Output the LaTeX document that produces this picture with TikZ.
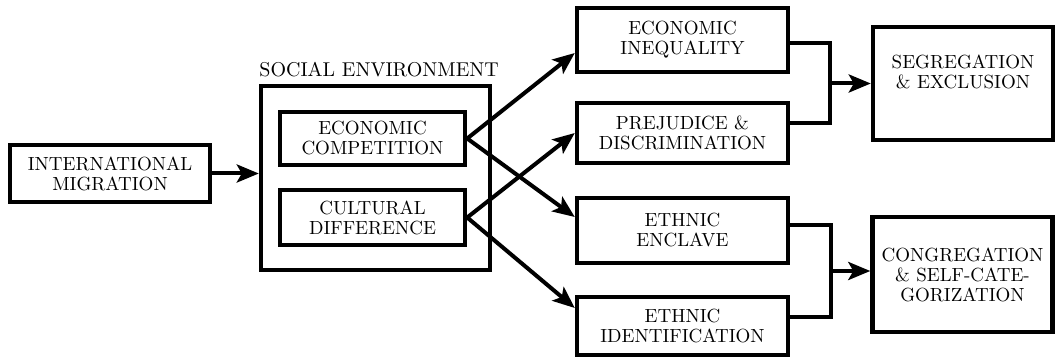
\documentclass[tikz,border=0pt]{standalone}
\usetikzlibrary{arrows.meta, positioning, calc}
\tikzset{
    box/.style={draw=black, line width=2.2pt, fill=white, align=center, inner sep=1pt, font=\fontsize{9.5}{10}\selectfont},
    midbox/.style={box, minimum width=105.5pt},
    endbox/.style={box, minimum width=90pt},
    title/.style={inner sep=0pt, font=\fontsize{10}{10}\selectfont},
    arrow/.style={-{Stealth[length=11pt, width=9pt, inset=2.5pt]}, line width=2pt, black},
    link/.style={line width=2pt, black, line join=miter}
}

\begin{document}
\begin{tikzpicture}[x=0.5pt, y=-0.5pt]
        \useasboundingbox (0,0) rectangle (1056,358);
        \node [box, minimum width=100pt, minimum height=28.5pt] (intl) at (110,173.5) {INTERNATIONAL\\MIGRATION};
        \node [box, minimum width=114.5pt, minimum height=92pt] (env) at (375.5,178) {};
        \node [title, anchor=base west] (envtitle) at (259,77) {SOCIAL ENVIRONMENT};
        \node [box, minimum width=92.5pt, minimum height=26.5pt] (ecomp) at (372.5,138.5) {ECONOMIC\\COMPETITION};
        \node [box, minimum width=92.5pt, minimum height=27.5pt] (cult) at (372.5,217.5) {CULTURAL\\DIFFERENCE};
        \node [midbox, minimum height=32pt] (ineq) at (682.5,40) {ECONOMIC\\INEQUALITY};
        \node [midbox, minimum height=30pt] (prej) at (682.5,133) {PREJUDICE \&\\DISCRIMINATION};
        \node [midbox, minimum height=32.5pt] (encl) at (682.5,230.5) {ETHNIC\\ENCLAVE};
        \node [midbox, minimum height=29pt] (ident) at (682.5,326) {ETHNIC\\IDENTIFICATION};
        \node [endbox, minimum height=56.5pt, text depth=11.5pt] (segr) at (963,83.5) {SEGREGATION\\\& EXCLUSION};
        \node [endbox, minimum height=57.5pt] (congr) at (962.5,274.5) {CONGREGATION\\\& SELF-CATE-\\GORIZATION};

        \draw [arrow] (intl.east) -- (intl.east -| env.west);
        \draw [arrow] (ecomp.east) -- ($(ineq.west)+(0,13)$);
        \draw [arrow] (ecomp.east) -- ($(encl.west)+(0,-13.5)$);
        \draw [arrow] (cult.east) -- (prej.west);
        \draw [arrow] (cult.east) -- ($(ident.west)+(0,-18)$);

        \coordinate (ja) at (830,83.5);
        \coordinate (jb) at (831,271);
        \draw [link] ($(ineq.east)+(0,3)$) -| (ja) |- ($(prej.east)+(0,-10)$);
        \draw [arrow] (ja) -- (segr.west);
        \draw [link] ($(encl.east)+(0,-5.5)$) -| (jb) |- ($(ident.east)+(0,-9)$);
        \draw [arrow] (jb) -- (jb -| congr.west);
    \end{tikzpicture}
\end{document}
